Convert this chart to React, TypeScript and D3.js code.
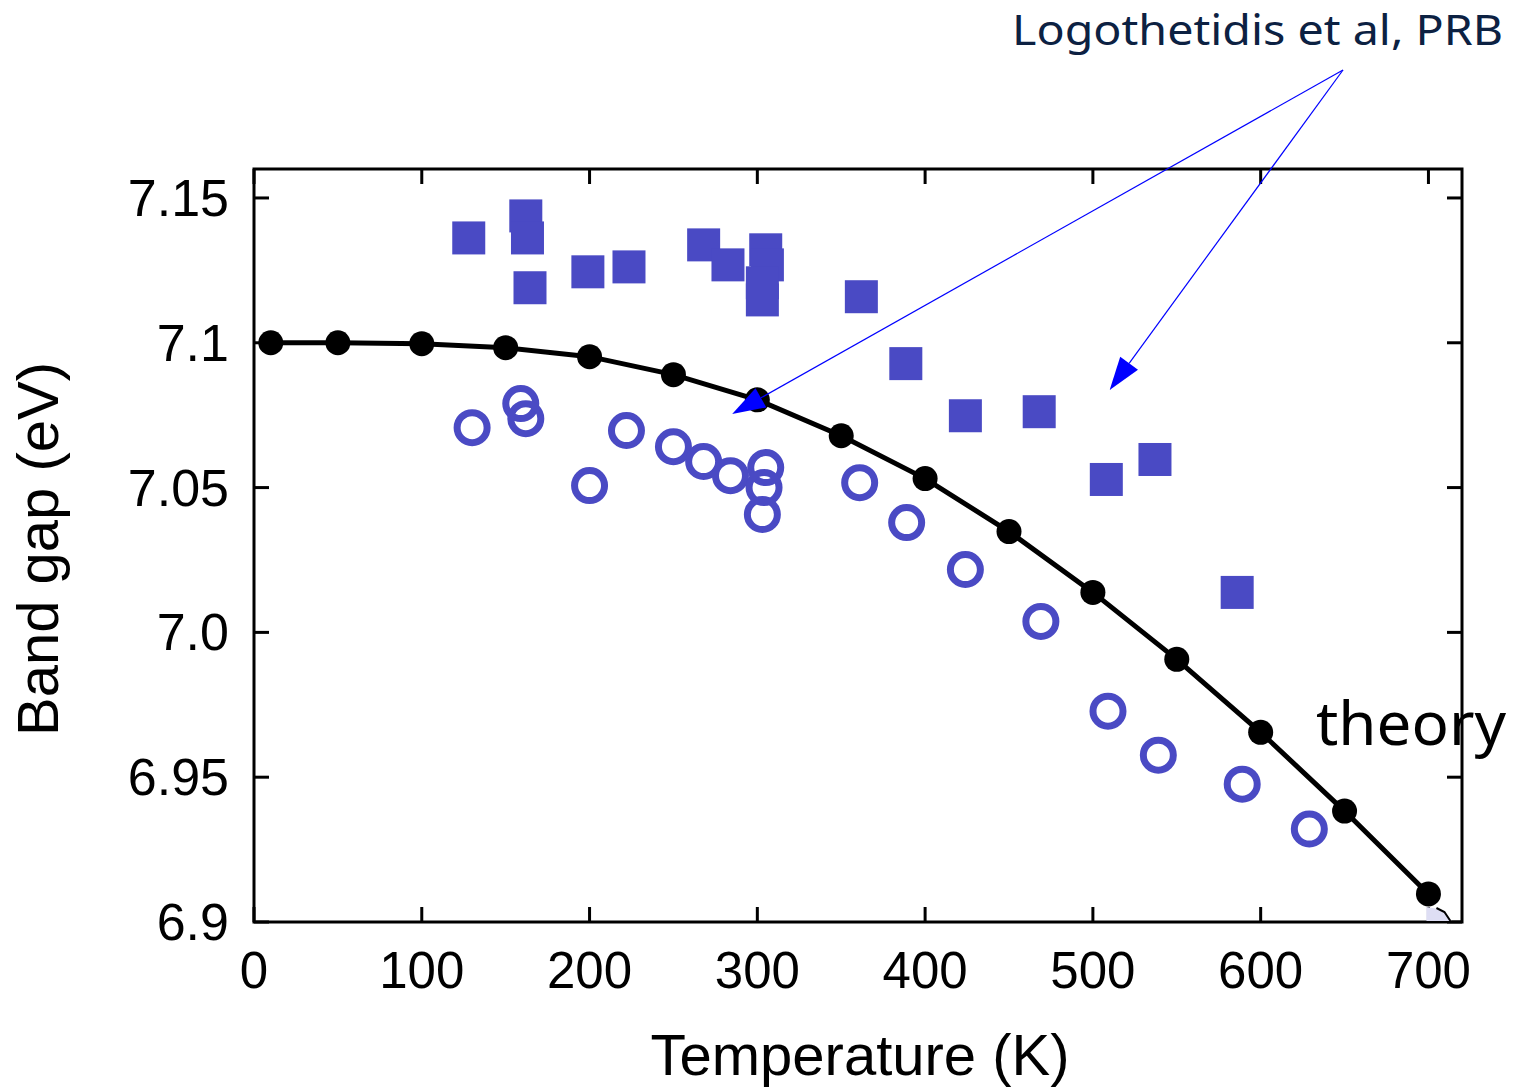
import React from "react";
import * as d3 from "d3";

// ---- data ----
const theoryT = [10, 50, 100, 150, 200, 250, 300, 350, 400, 450, 500, 550, 600, 650, 700];
const theoryGap = [7.1, 7.1, 7.0997, 7.0983, 7.0952, 7.089, 7.0803, 7.0679, 7.0531, 7.0348, 7.0138, 6.9907, 6.9655, 6.9383, 6.9097];

const circleT = [130, 159, 162, 200, 222, 250, 268, 284, 305, 304, 303, 361, 389, 424, 469, 509, 539, 589, 629];
const circleGap = [7.0707, 7.079, 7.0738, 7.0507, 7.0697, 7.0641, 7.059, 7.0541, 7.0569, 7.05, 7.0407, 7.0517, 7.0379, 7.0217, 7.0038, 6.9728, 6.9576, 6.9476, 6.9321];

const squareT = [128, 162, 163, 164.5, 199, 223.5, 268, 282.5, 305, 306, 303, 303, 362, 388.5, 424, 468, 508, 537, 586];
const squareGap = [7.1362, 7.1438, 7.1362, 7.119, 7.1245, 7.1262, 7.1338, 7.1269, 7.1321, 7.1269, 7.1207, 7.1148, 7.1159, 7.0928, 7.0748, 7.0762, 7.0528, 7.0597, 7.0138];

const xTicks = [0, 100, 200, 300, 400, 500, 600, 700];
const yTicks = [7.15, 7.1, 7.05, 7.0, 6.95, 6.9];
const yTickLabels = ["7.15", "7.1", "7.05", "7.0", "6.95", "6.9"];

const xTitle = "Temperature (K)";
const yTitle = "Band gap (eV)";
const sourceLabel = "Logothetidis et al, PRB";
const theoryLabel = "theory";

// arrow targets in data coordinates
const arrowTargetsT = [285, 510];
const arrowTargetsGap = [7.0754, 7.0837];

export default function App() {
  const W = 1513, H = 1087;
  const left = 254, right = 1462, top = 169, bottom = 922;
  const x = d3.scaleLinear().domain([0, 720]).range([left, right]);
  const y = d3.scaleLinear().domain([6.9, 7.16]).range([bottom, top]);
  const tickLen = 15;
  const blue = "#4a4ac4";
  const line = d3.line<number>().x((d, i) => x(theoryT[i])).y((d) => y(d));
  const sq = 33;
  const font = "Liberation Sans, Arial, Helvetica, sans-serif";

  if (typeof document !== "undefined") document.body.style.margin = "0";

  const origin = [1343, 70];
  const arrowHead = (tx: number, ty: number) => {
    const dx = tx - origin[0], dy = ty - origin[1];
    const len = Math.sqrt(dx * dx + dy * dy);
    const ux = dx / len, uy = dy / len;
    const hl = 33, hw = 11;
    const bx = tx - ux * hl, by = ty - uy * hl;
    const px = -uy, py = ux;
    return {
      line: [origin[0], origin[1], bx, by],
      pts: `${tx},${ty} ${bx + px * hw},${by + py * hw} ${bx - px * hw},${by - py * hw}`,
    };
  };

  return (
    <svg width={W} height={H} style={{ position: "absolute", left: 0, top: 0, background: "#fff" }}>
      <rect x={0} y={0} width={W} height={H} fill="#fff" />
      {/* frame */}
      <rect x={left} y={top} width={right - left} height={bottom - top} fill="none" stroke="#000" strokeWidth={3} />
      {/* ticks */}
      {xTicks.map((t) => (
        <g key={"xt" + t}>
          <line x1={x(t)} x2={x(t)} y1={bottom} y2={bottom - tickLen} stroke="#000" strokeWidth={3} />
          <line x1={x(t)} x2={x(t)} y1={top} y2={top + tickLen} stroke="#000" strokeWidth={3} />
          <text x={x(t)} y={988} textAnchor="middle" fontFamily={font} fontSize={51} fill="#000">
            {t}
          </text>
        </g>
      ))}
      {yTicks.map((t, i) => (
        <g key={"yt" + t}>
          <line x1={left} x2={left + tickLen} y1={y(t)} y2={y(t)} stroke="#000" strokeWidth={3} />
          <line x1={right} x2={right - tickLen} y1={y(t)} y2={y(t)} stroke="#000" strokeWidth={3} />
          <text x={229} y={y(t) + 18} textAnchor="end" fontFamily={font} fontSize={52} fill="#000">
            {yTickLabels[i]}
          </text>
        </g>
      ))}
      {/* axis titles */}
      <text x={860} y={1075} textAnchor="middle" fontFamily={font} fontSize={58} fill="#000">
        {xTitle}
      </text>
      <text transform={`translate(58,549) rotate(-90)`} textAnchor="middle" fontFamily={font} fontSize={58} fill="#000">
        {yTitle}
      </text>

      {/* experimental squares */}
      {squareT.map((t, i) => (
        <rect key={"sq" + i} x={x(t) - sq / 2} y={y(squareGap[i]) - sq / 2} width={sq} height={sq} fill={blue} />
      ))}
      {/* experimental circles */}
      {circleT.map((t, i) => (
        <circle key={"c" + i} cx={x(t)} cy={y(circleGap[i])} r={15} fill="none" stroke={blue} strokeWidth={7} />
      ))}
      {/* theory */}
      <path d={line(theoryGap) || ""} fill="none" stroke="#000" strokeWidth={5} />
      {theoryT.map((t, i) => (
        <circle key={"th" + i} cx={x(t)} cy={y(theoryGap[i])} r={12.5} fill="#000" />
      ))}

      {/* small artifact at bottom right */}
      <path d={`M${x(700) - 2},${bottom - 15} L${x(700) - 2},${bottom - 1} L${x(700) + 23},${bottom - 1} L${x(700) + 16},${bottom - 10} L${x(700) + 10},${bottom - 13} Z`} fill="#dedef4" />
      <path d={`M${x(700) + 8},${bottom - 14} L${x(700) + 16},${bottom - 10} L${x(700) + 22},${bottom - 1}`} fill="none" stroke="#000" strokeWidth={2} />

      <text x={1316} y={745} fontFamily="Noto Sans, Open Sans, sans-serif" fontSize={61} fill="#000" textLength={190} lengthAdjust="spacingAndGlyphs">
        {theoryLabel}
      </text>

      {/* annotation arrows */}
      {arrowTargetsT.map((t, i) => {
        const a = arrowHead(x(t), y(arrowTargetsGap[i]));
        return (
          <g key={"ar" + i}>
            <line x1={a.line[0]} y1={a.line[1]} x2={a.line[2]} y2={a.line[3]} stroke="#0000ff" strokeWidth={1.2} />
            <polygon points={a.pts} fill="#0000ff" />
          </g>
        );
      })}
      <text x={1012} y={45} fontFamily="Noto Sans, Open Sans, sans-serif" fontSize={41} fill="#0c2142" textLength={491} lengthAdjust="spacingAndGlyphs">
        {sourceLabel}
      </text>
    </svg>
  );
}
